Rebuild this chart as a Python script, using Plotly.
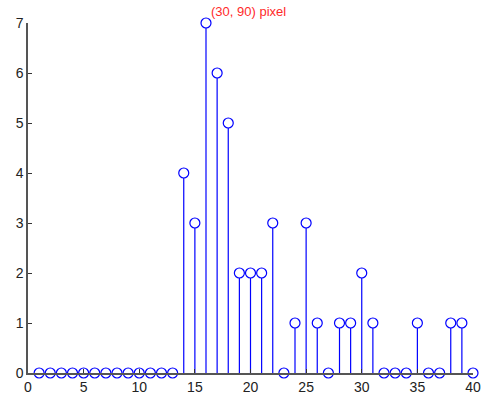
import plotly.graph_objects as go

x_vals = list(range(1, 41))
y_vals = [0, 0, 0, 0, 0, 0, 0, 0, 0, 0, 0, 0, 0,
          4, 3, 7, 6, 5, 2, 2, 2, 3, 0, 1, 3, 1, 0, 1, 1, 2,
          1, 0, 0, 0, 1, 0, 0, 1, 1, 0]
title_text = "(30, 90) pixel"
x_ticks = [0, 5, 10, 15, 20, 25, 30, 35, 40]
y_ticks = [0, 1, 2, 3, 4, 5, 6, 7]

stem_x, stem_y = [], []
for xv, yv in zip(x_vals, y_vals):
    stem_x += [xv, xv, None]
    stem_y += [0, yv, None]

fig = go.Figure()
fig.add_trace(go.Scatter(x=stem_x, y=stem_y, mode="lines",
                         line=dict(color="#0000ff", width=1.2),
                         hoverinfo="skip", showlegend=False, cliponaxis=False))
fig.add_trace(go.Scatter(x=x_vals, y=y_vals, mode="markers",
                         marker=dict(symbol="circle", size=10, color="white",
                                     line=dict(width=1.2, color="#0000ff")),
                         showlegend=False, cliponaxis=False))

font_family = "Liberation Sans, Arial, sans-serif"
fig.update_layout(
    width=485, height=399,
    margin=dict(l=28, r=12, t=23, b=26),
    paper_bgcolor="white", plot_bgcolor="white",
    font=dict(family=font_family, size=14, color="#222222"),
    annotations=[dict(text=title_text, x=0.5, y=1.0, xref="paper", yref="paper",
                      xanchor="center", yanchor="bottom", yshift=2, xshift=-2,
                      showarrow=False,
                      font=dict(family=font_family, size=13, color="#ff2a2a"))],
)
fig.update_xaxes(range=[0, 40], tickvals=x_ticks, showgrid=False, zeroline=False,
                 automargin=False,
                 showline=True, linecolor="#555555", linewidth=1.5,
                 ticks="inside", ticklen=4, tickcolor="#333333", tickwidth=1,
                 tickfont=dict(size=14, color="#222222"))
fig.update_yaxes(range=[0, 7], tickvals=y_ticks, showgrid=False, zeroline=False,
                 automargin=False,
                 showline=True, linecolor="#555555", linewidth=1.5,
                 ticks="inside", ticklen=4, tickcolor="#333333", tickwidth=1,
                 tickfont=dict(size=14, color="#222222"))

fig.write_html("out.html", config={"displayModeBar": False},
               post_script="document.body.style.margin='0';document.body.style.overflow='hidden';")
